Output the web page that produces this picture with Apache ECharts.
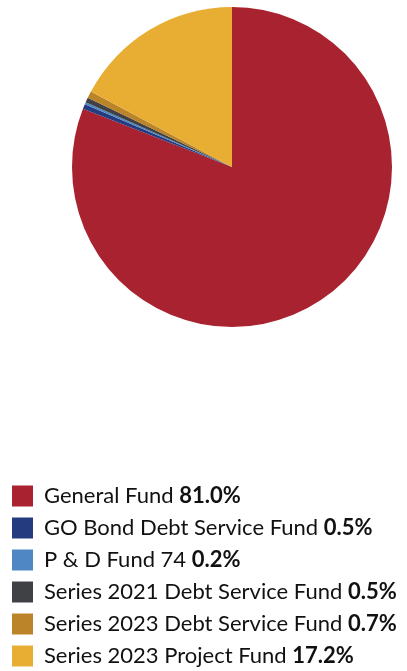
<!DOCTYPE html>
<html>
<head>
<meta charset="utf-8">
<style>html,body{margin:0;padding:0;background:#fff;}#chart{width:407px;height:671px;}</style>
<script src="https://cdn.jsdelivr.net/npm/echarts@6/dist/echarts.min.js"></script>
</head>
<body>
<div id="chart"></div>
<script>
const categories = ["General Fund", "GO Bond Debt Service Fund", "P & D Fund 74", "Series 2021 Debt Service Fund", "Series 2023 Debt Service Fund", "Series 2023 Project Fund"];
const values = [81.0, 0.5, 0.2, 0.5, 0.7, 17.2];
const colors = ["#A8232F", "#243B7F", "#4F86C4", "#404144", "#BC8428", "#E8AE33"];

const chart = echarts.init(document.getElementById('chart'));
const data = categories.map((c, i) => ({ name: c, value: values[i], itemStyle: { color: colors[i] } }));
chart.setOption({
  animation: false,
  legend: {
    orient: 'vertical',
    left: 12,
    top: 485,
    width: 400,
    height: 190,
    padding: 0,
    icon: 'rect',
    itemWidth: 21,
    itemHeight: 21,
    itemGap: 10,
    selectedMode: false,
    data: categories,
    formatter: function (name) {
      const i = categories.indexOf(name);
      return name + ' {b|' + values[i].toFixed(1) + '%}';
    },
    textStyle: {
      fontFamily: 'Lato',
      fontSize: 22,
      color: '#111',
      lineHeight: 21,
      padding: [0, 0, 0, 6],
      rich: {
        b: { fontFamily: 'Lato', fontSize: 22, fontWeight: 'bold', color: '#111', lineHeight: 21 }
      }
    }
  },
  series: [{
    type: 'pie',
    center: [232, 167],
    radius: 160,
    startAngle: 90,
    clockwise: true,
    label: { show: false },
    labelLine: { show: false },
    emphasis: { disabled: true },
    itemStyle: { borderWidth: 0 },
    data: data
  }]
});
</script>
</body>
</html>
